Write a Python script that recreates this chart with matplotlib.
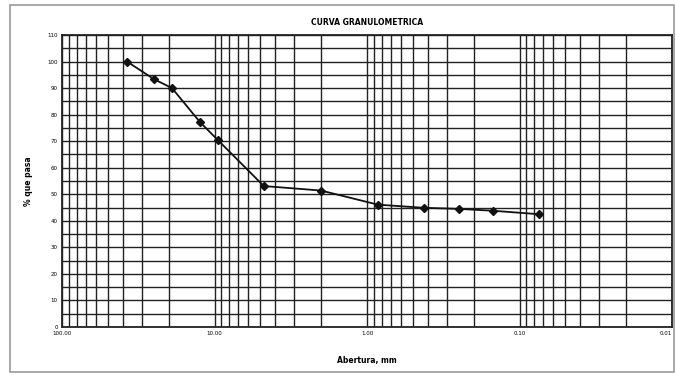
import numpy as np
import matplotlib
matplotlib.use("Agg")
import matplotlib.pyplot as plt
from matplotlib.patches import Rectangle

# Datos de la curva granulometrica
abertura_mm = [37.5, 25.0, 19.0, 12.5, 9.5, 4.75, 2.00, 0.850, 0.425, 0.250, 0.150, 0.075]
pasa_pct = [100.0, 93.4, 90.0, 77.3, 70.4, 53.1, 51.4, 46.1, 44.9, 44.5, 43.8, 42.5]

x_ticks = [100.0, 10.0, 1.0, 0.1, 0.01]
x_tick_labels = ["100.00", "10.00", "1.00", "0.10", "0.01"]
y_ticks = list(range(0, 111, 10))

fig = plt.figure(figsize=(6.76, 3.75), dpi=100)
fig.patches.append(Rectangle((10 / 676, 3 / 375), 664 / 676, 367 / 375,
                             transform=fig.transFigure, fill=False,
                             edgecolor="#9a9a9a", linewidth=1.2))

ax = fig.add_axes([62 / 676, 48 / 375, 610 / 676, 292 / 375])
ax.set_xscale("log")
ax.set_xlim(100, 0.01)
ax.set_ylim(0, 110)

# Cuadricula
ax.set_yticks(y_ticks)
ax.set_yticks(np.arange(0, 111, 5), minor=True)
ax.set_xticks(x_ticks)
ax.set_xticklabels(x_tick_labels)
ax.get_xticklabels()[-1].set_horizontalalignment("right")
ax.grid(True, which="both", color="#222222", linewidth=1.0)
ax.tick_params(which="both", length=0, labelsize=4, pad=3)
for s in ax.spines.values():
    s.set_linewidth(1.3)
    s.set_color("#222222")

ax.plot(abertura_mm, pasa_pct, color="#111111", linewidth=1.3,
        marker="D", markersize=4.5, zorder=5)

ax.set_title("CURVA GRANULOMETRICA", fontsize=5.5, fontweight="bold", pad=7)
ax.set_xlabel("Abertura, mm", fontsize=5.5, fontweight="bold", labelpad=14)
ax.set_ylabel("% que pasa", fontsize=5.5, fontweight="bold", labelpad=10)

fig.savefig("out.png", dpi=100)
